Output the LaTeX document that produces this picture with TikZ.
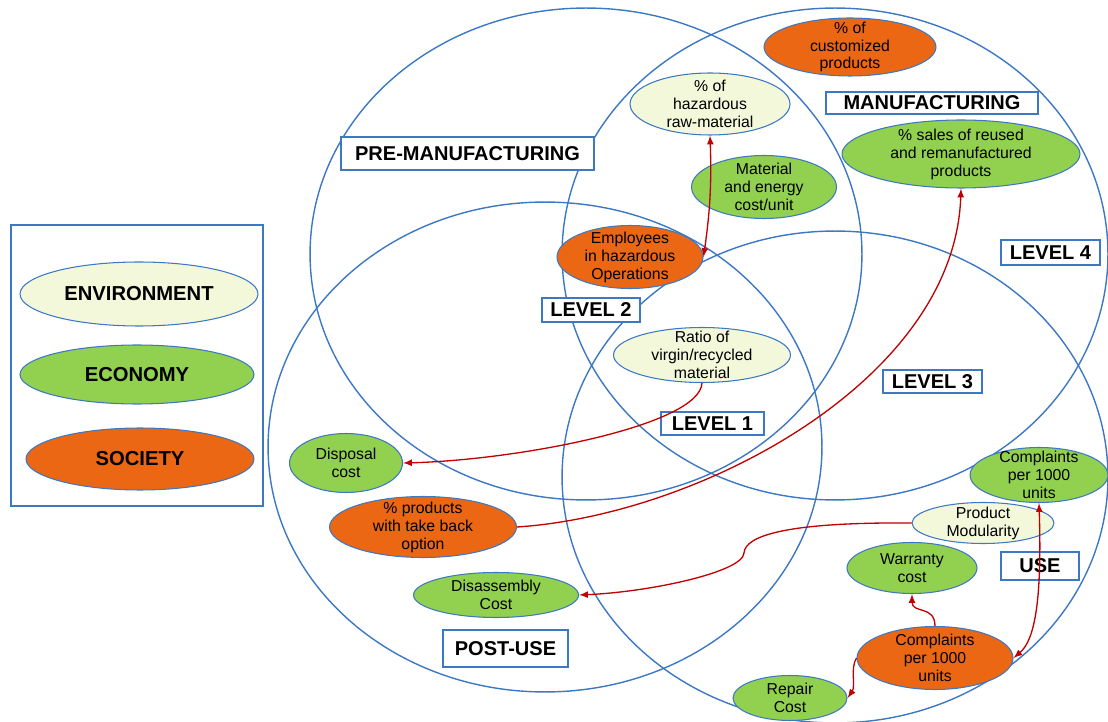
\documentclass[tikz,border=0pt]{standalone}
\usepackage{fontspec}
\setmainfont{Liberation Sans}
\usetikzlibrary{shapes.geometric}

\definecolor{envfill}{RGB}{243,248,219}
\definecolor{ecofill}{RGB}{146,208,80}
\definecolor{socfill}{RGB}{236,103,19}
\definecolor{venn}{RGB}{60,120,196}
\definecolor{linkred}{RGB}{192,0,0}

\tikzset{
  ind/.style={ellipse, draw=venn, line width=0.6pt, inner xsep=0pt, inner ysep=-4pt,
    align=center, font=\fontsize{9}{10.2}\selectfont},
  env/.style={ind, fill=envfill},
  eco/.style={ind, fill=ecofill},
  soc/.style={ind, fill=socfill},
  legendtxt/.style={font=\bfseries\fontsize{11.5}{13}\selectfont},
  stage/.style={draw=venn, line width=0.9pt, fill=white, inner sep=0pt,
    font=\bfseries\fontsize{11.4}{13}\selectfont},
  link/.style={draw=linkred, line width=0.75pt, >=latex},
}

\begin{document}
\begin{tikzpicture}[x=0.02cm, y=-0.02cm]
\useasboundingbox (0,0) rectangle (1108,722);

% life cycle stages
\draw[venn, line width=0.8pt] (586,254) ellipse [x radius=5.52cm, y radius=4.92cm];
\draw[venn, line width=0.8pt] (835,254) ellipse [x radius=5.46cm, y radius=4.92cm];
\draw[venn, line width=0.8pt] (545,447) ellipse [x radius=5.54cm, y radius=4.90cm];
\draw[venn, line width=0.8pt] (835,477) ellipse [x radius=5.46cm, y radius=4.92cm];

% legend
\draw[venn, line width=0.6pt] (11,225) rectangle (263,506);
\node[env, legendtxt, minimum width=4.76cm, minimum height=1.28cm] (lenv) at (139,294) {ENVIRONMENT};
\node[eco, legendtxt, minimum width=4.68cm, minimum height=1.18cm] (leco) at (137,374.5) {ECONOMY};
\node[soc, legendtxt, minimum width=4.56cm, minimum height=1.24cm] (lsoc) at (140,459) {SOCIETY};

% stage and level labels
\node[stage, minimum width=5.06cm, minimum height=0.66cm] (pre) at (467.5,153.5) {PRE-MANUFACTURING};
\node[stage, minimum width=4.24cm, minimum height=0.44cm] (man) at (932,103) {MANUFACTURING};
\node[stage, minimum width=1.56cm, minimum height=0.56cm] (use) at (1040,566) {USE};
\node[stage, minimum width=2.50cm, minimum height=0.74cm] (post) at (505.5,648.5) {POST-USE};
\node[stage, minimum width=2.06cm, minimum height=0.46cm] (lv1) at (712.5,423.5) {LEVEL 1};
\node[stage, minimum width=1.96cm, minimum height=0.48cm] (lv2) at (591,310) {LEVEL 2};
\node[stage, minimum width=1.98cm, minimum height=0.46cm] (lv3) at (932.5,381.5) {LEVEL 3};
\node[stage, minimum width=1.98cm, minimum height=0.50cm] (lv4) at (1050.5,252.5) {LEVEL 4};

% indicators
\node[soc, minimum width=3.44cm, minimum height=1.16cm] (cust) at (850,47) {\% of\\customized\\products};
\node[env, minimum width=3.20cm, minimum height=1.24cm] (haz) at (710,104) {\% of\\hazardous\\raw-material};
\node[eco, minimum width=2.90cm, minimum height=1.26cm] (mec) at (764,187) {Material\\and energy\\cost/unit};
\node[eco, minimum width=4.76cm, minimum height=1.36cm] (sales) at (961,154) {\% sales of reused\\and remanufactured\\products};
\node[soc, minimum width=2.92cm, minimum height=1.26cm] (emp) at (630,257) {Employees\\in hazardous\\Operations};
\node[env, minimum width=3.54cm, minimum height=1.10cm] (ratio) at (702,355) {Ratio of\\virgin/recycled\\material};
\node[eco, minimum width=2.26cm, minimum height=1.18cm] (disp) at (346,463) {Disposal\\cost};
\node[soc, minimum width=3.74cm, minimum height=1.22cm] (take) at (423,527) {\% products\\with take back\\option};
\node[eco, minimum width=3.30cm, minimum height=0.90cm] (dis) at (496,595) {Disassembly\\Cost};
\node[eco, minimum width=2.76cm, minimum height=1.10cm] (cg) at (1039,475) {Complaints\\per 1000\\units};
\node[env, minimum width=2.84cm, minimum height=0.82cm] (pm) at (983,523) {Product\\Modularity};
\node[eco, minimum width=2.60cm, minimum height=1.02cm] (war) at (912,568) {Warranty\\cost};
\node[soc, minimum width=3.12cm, minimum height=1.26cm] (co) at (935,658) {Complaints\\per 1000\\units};
\node[eco, minimum width=2.28cm, minimum height=0.90cm] (rep) at (790,698) {Repair\\Cost};

% links
\draw[link, <->] (haz.south) to[bend left=5] (emp.east);
\draw[link, ->] (ratio.south) .. controls (700,425) and (520,460) .. (disp.east);
\draw[link, ->] (take.east) .. controls (700,515) and (955,380) .. (sales.south);
\draw[link, ->] (pm.west) .. controls (790,522) and (745,535) .. (744,553)
  .. controls (743,572) and (650,592) .. (dis.east);
\draw[link, <->] (cg.south) .. controls (1042,600) and (1035,640) .. (co.east);
\draw[link, ->] (co.north) .. controls (935,605) and (912,614) .. (war.south);
\draw[link, ->] (co.west) .. controls (850,668) and (856,686) .. (rep.east);

\end{tikzpicture}
\end{document}
